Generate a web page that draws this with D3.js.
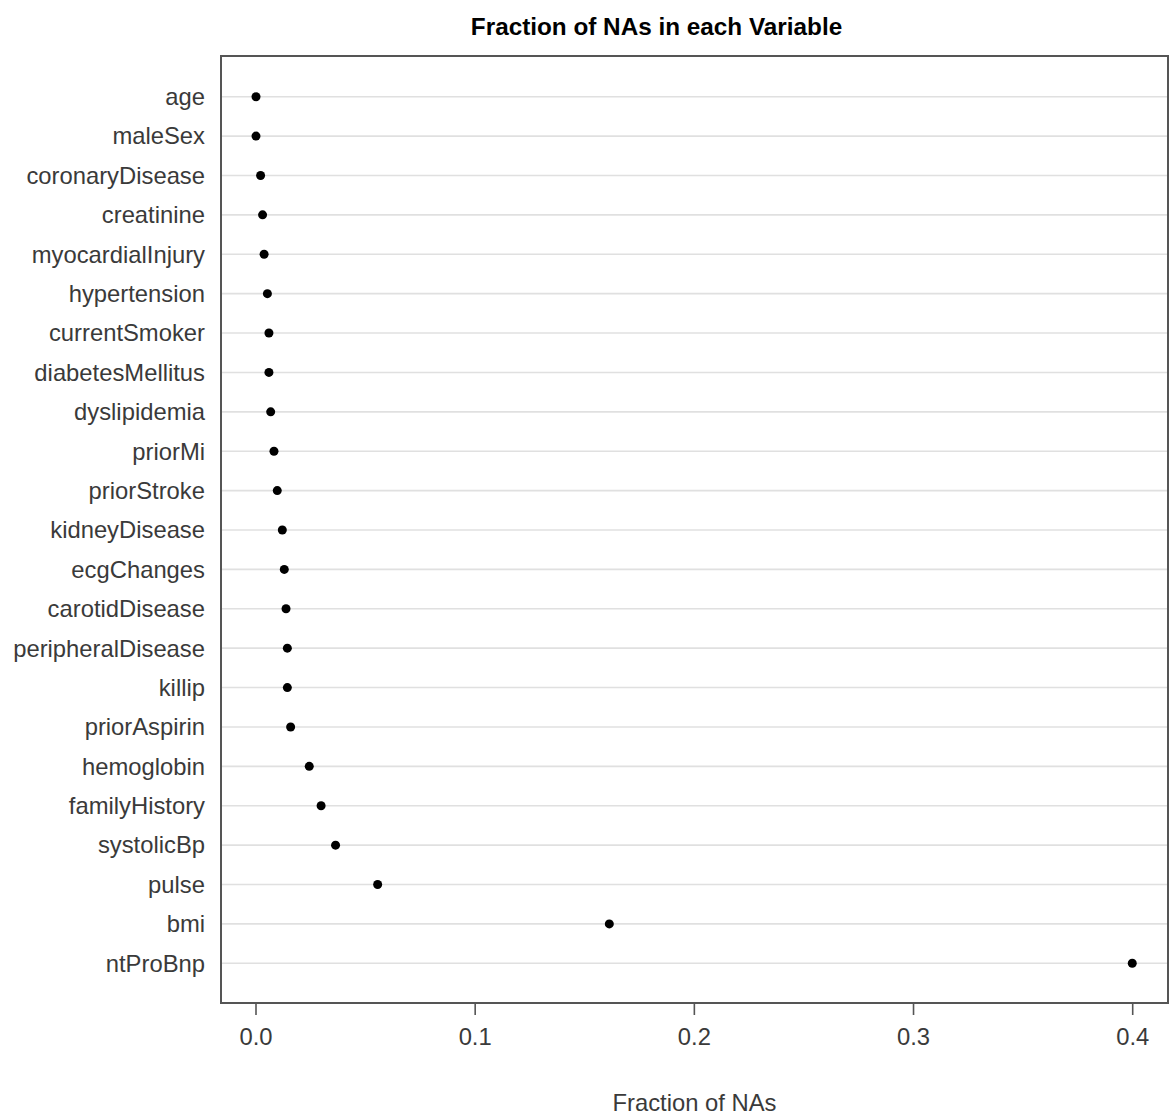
<!DOCTYPE html>
<html>
<head>
<meta charset="utf-8">
<script src="https://cdn.jsdelivr.net/npm/d3@7"></script>
<style>
  body { margin: 0; background: #fff; }
  text { font-family: "Liberation Sans", Arial, sans-serif; }
</style>
</head>
<body>
<div id="chart"></div>
<script>
// Data (ordered top to bottom)
const variables = ["age", "maleSex", "coronaryDisease", "creatinine", "myocardialInjury",
  "hypertension", "currentSmoker", "diabetesMellitus", "dyslipidemia", "priorMi",
  "priorStroke", "kidneyDisease", "ecgChanges", "carotidDisease", "peripheralDisease",
  "killip", "priorAspirin", "hemoglobin", "familyHistory", "systolicBp", "pulse", "bmi", "ntProBnp"];
const fractions = [0.0, 0.0, 0.0021, 0.003, 0.0037,
  0.0052, 0.0059, 0.0059, 0.0067, 0.0082,
  0.0097, 0.012, 0.0129, 0.0137, 0.0143,
  0.0143, 0.0158, 0.0243, 0.0297, 0.0363, 0.0555, 0.1612, 0.3998];
const xTicks = [0, 0.1, 0.2, 0.3, 0.4];

const width = 1170, height = 1117;
const panel = { left: 221, right: 1168, top: 56, bottom: 1003 };

const svg = d3.select("#chart").append("svg")
  .attr("width", width)
  .attr("height", height);

// Scales
const x = d3.scaleLinear().domain([0, 0.4]).range([256, 1132.7]);
const y = d3.scalePoint().domain(variables).range([96.7, 963.3]);

// Grid lines
svg.append("g").selectAll("line")
  .data(variables)
  .join("line")
  .attr("x1", panel.left).attr("x2", panel.right)
  .attr("y1", d => y(d)).attr("y2", d => y(d))
  .attr("stroke", "#e0e0e0")
  .attr("stroke-width", 1.6);

// Points
svg.append("g").selectAll("circle")
  .data(variables)
  .join("circle")
  .attr("cx", (d, i) => x(fractions[i]))
  .attr("cy", d => y(d))
  .attr("r", 4.5)
  .attr("fill", "#000");

// Panel frame
svg.append("rect")
  .attr("x", panel.left).attr("y", panel.top)
  .attr("width", panel.right - panel.left)
  .attr("height", panel.bottom - panel.top)
  .attr("fill", "none")
  .attr("stroke", "#555")
  .attr("stroke-width", 2);

// Y labels
svg.append("g").selectAll("text")
  .data(variables)
  .join("text")
  .attr("x", 205)
  .attr("y", d => y(d))
  .attr("dy", "0.35em")
  .attr("text-anchor", "end")
  .attr("fill", "#3a3a3a")
  .style("font-size", "23.8px")
  .text(d => d);

// X axis ticks
const xAxis = svg.append("g");
xAxis.selectAll("line")
  .data(xTicks)
  .join("line")
  .attr("x1", d => x(d)).attr("x2", d => x(d))
  .attr("y1", panel.bottom).attr("y2", panel.bottom + 12)
  .attr("stroke", "#555")
  .attr("stroke-width", 1.6);
xAxis.selectAll("text")
  .data(xTicks)
  .join("text")
  .attr("x", d => x(d))
  .attr("y", 1037)
  .attr("dy", "0.35em")
  .attr("text-anchor", "middle")
  .attr("fill", "#3a3a3a")
  .style("font-size", "23.8px")
  .text(d => d3.format(".1f")(d));

// Axis title
svg.append("text")
  .attr("x", (panel.left + panel.right) / 2)
  .attr("y", 1103)
  .attr("dy", "0.35em")
  .attr("text-anchor", "middle")
  .attr("fill", "#3a3a3a")
  .style("font-size", "23.8px")
  .text("Fraction of NAs");

// Title
svg.append("text")
  .attr("x", 656.5)
  .attr("y", 26)
  .attr("dy", "0.35em")
  .attr("text-anchor", "middle")
  .attr("fill", "#000")
  .style("font-size", "24.3px")
  .style("font-weight", "bold")
  .text("Fraction of NAs in each Variable");
</script>
</body>
</html>
